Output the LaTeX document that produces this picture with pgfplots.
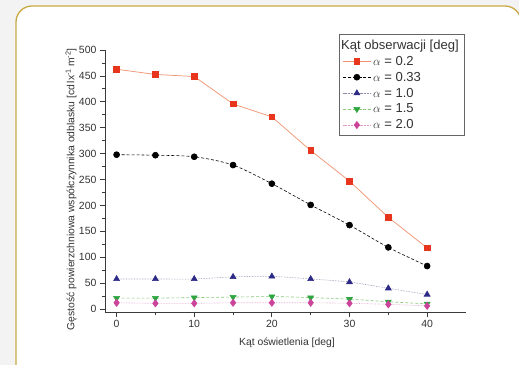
\documentclass[border=0pt]{standalone}
\usepackage{fontspec}
\setmainfont{Liberation Sans}
\usepackage{pgfplots}
\pgfplotsset{compat=1.18}
\definecolor{bggray}{HTML}{F3F3F3}
\definecolor{framegold}{HTML}{C9A945}
\definecolor{axisgray}{HTML}{3A3A3A}
\definecolor{textgray}{HTML}{333333}
\definecolor{markRed}{HTML}{E8351E}
\definecolor{lineRed}{HTML}{F0926F}
\definecolor{navy}{HTML}{2D2A87}
\definecolor{lineNavy}{HTML}{8C8CAA}
\definecolor{markGreen}{HTML}{2DA640}
\definecolor{lineGreen}{HTML}{88C877}
\definecolor{markMag}{HTML}{CC449A}
\definecolor{lineMag}{HTML}{E59AC8}
\begin{document}
\begin{tikzpicture}
\useasboundingbox (0bp,0bp) rectangle (519bp,365bp);
\fill[bggray] (0bp,0bp) rectangle (519bp,365bp);
\begin{scope}
\clip (0bp,0bp) rectangle (519bp,365bp);
\filldraw[fill=white, draw=framegold, line width=1.3bp, rounded corners=16bp] (16bp,-30bp) rectangle (521bp,359bp);
\end{scope}
\begin{axis}[
  at={(116.6bp,56bp)}, anchor=origin,
  scale only axis, width=361bp, height=262bp,
  xmin=-1.5, xmax=45, ymin=-6, ymax=500,
  axis lines=left,
  axis line style={-, line width=0.9bp, color=axisgray},
  xtick={0,10,20,30,40}, minor xtick={5,15,25,35},
  ytick={0,50,...,500}, minor ytick={25,75,...,475},
  tick align=outside, major tick length=5bp, minor tick length=3bp,
  every tick/.style={line width=0.9bp, color=axisgray},
  ticklabel style={font=\fontsize{10.5}{12}\selectfont, color=textgray},
  /pgf/number format/assume math mode=true,
  xlabel={Kąt oświetlenia [deg]},
  ylabel={Gęstość powierzchniowa współczynnika odblasku [cd\,lx\textsuperscript{-1}\,m\textsuperscript{-2}]},
  label style={font=\fontsize{10.4}{12}\selectfont, color=textgray},
  xlabel style={at={(axis description cs:0.504,-0.118)}, anchor=center},
  ylabel style={at={(axis description cs:-0.094,0.469)}, anchor=center},
  legend style={at={(axis description cs:0.647,1.063)}, anchor=north west,
    draw=gray!80!black, line width=1bp, font=\fontsize{13.1}{14}\selectfont,
    text=textgray, cells={anchor=west}, row sep=1.4bp, inner sep=3.5bp},
  legend image code/.code={\draw[mark repeat=2,mark phase=2] plot coordinates {(0bp,0bp) (14bp,0bp) (28bp,0bp)};},
]
\addlegendimage{empty legend}
\addlegendentry{\hspace{-32bp}Kąt obserwacji [deg]\hspace{-1bp}}
\addplot[color=lineRed, line width=0.7bp, mark=square*, mark size=2.8bp, mark options={solid, fill=markRed, draw=markRed}]
 coordinates {(0,463) (5,453) (10,449) (15,396) (20,371) (25,306) (30,247) (35,177) (40,118)};
\addlegendentry{$\alpha$ = 0.2}
\addplot[color=black, line width=0.6bp, densely dashed, smooth, mark=*, mark size=3bp, mark options={solid, fill=black}]
 coordinates {(0,298) (5,297) (10,294) (15,278) (20,242) (25,201) (30,162) (35,119) (40,83)};
\addlegendentry{$\alpha$ = 0.33}
\addplot[color=lineNavy, line width=0.6bp, densely dotted, smooth, mark=triangle*, mark size=3.4bp, mark options={solid, fill=navy, draw=navy}]
 coordinates {(0,58) (5,58) (10,58) (15,62) (20,63) (25,58) (30,52) (35,40) (40,28)};
\addlegendentry{$\alpha$ = 1.0}
\addplot[color=lineGreen, line width=0.6bp, densely dashed, smooth, mark=triangle*, mark size=3.4bp, mark options={solid, rotate=180, fill=markGreen, draw=markGreen}]
 coordinates {(0,21) (5,21) (10,22) (15,23) (20,24) (25,22) (30,19) (35,14) (40,10)};
\addlegendentry{$\alpha$ = 1.5}
\addplot[color=lineMag, line width=0.6bp, densely dotted, smooth, mark=diamond*, mark size=3.6bp, mark options={solid, fill=markMag, draw=markMag}]
 coordinates {(0,12) (5,11) (10,11) (15,12) (20,12) (25,12) (30,11) (35,9) (40,6)};
\addlegendentry{$\alpha$ = 2.0}
\end{axis}
\end{tikzpicture}
\end{document}
